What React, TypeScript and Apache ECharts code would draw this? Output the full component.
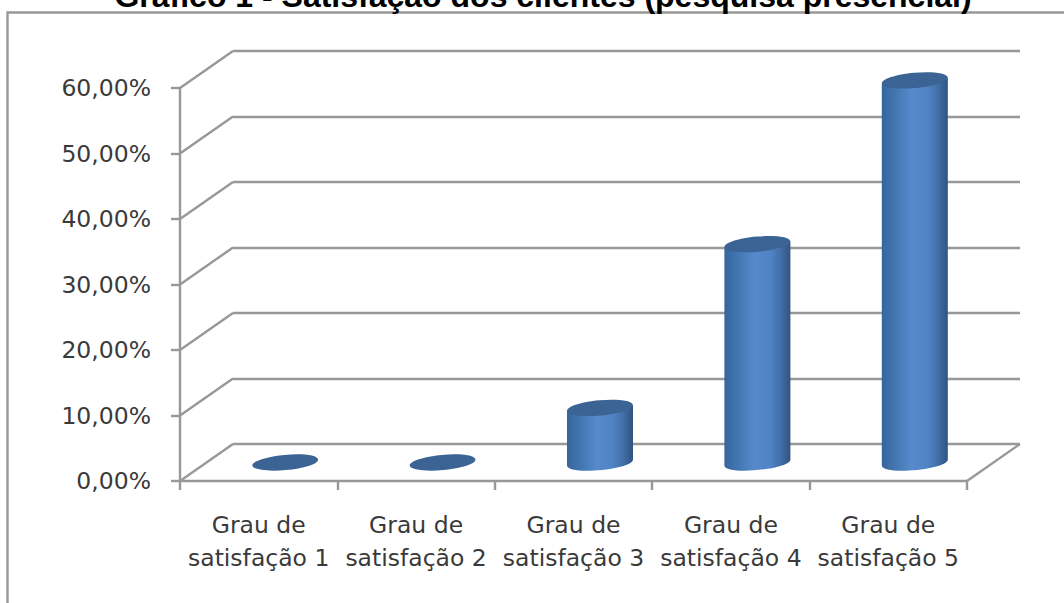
import React, { useEffect, useRef } from "react";
import * as echarts from "echarts";

const titleText = "Gráfico 1 - Satisfação dos clientes (pesquisa presencial)";
const categories = [
  "Grau de\nsatisfação 1",
  "Grau de\nsatisfação 2",
  "Grau de\nsatisfação 3",
  "Grau de\nsatisfação 4",
  "Grau de\nsatisfação 5",
];
const satisfaction = [0, 0, 8.33, 33.33, 58.33];
const gridValues = [0, 10, 20, 30, 40, 50, 60];

const DEPTH_X = 53;
const DEPTH_Y = -37;
const GRAY = "#989898";
const FONT = "DejaVu Sans";

export default function App() {
  const ref = useRef<HTMLDivElement>(null);
  useEffect(() => {
    document.body.style.margin = "0";
    const chart = echarts.init(ref.current!, null, { renderer: "svg" });
    const axisStyle = { color: GRAY, width: 2.4 };
    chart.setOption({
      animation: false,
      backgroundColor: "#ffffff",
      title: {
        text: titleText,
        left: 538,
        top: -25,
        textAlign: "center",
        textStyle: { fontFamily: "Liberation Sans", fontSize: 32, fontWeight: "bold", color: "#000" },
      },
      graphic: [
        {
          type: "polyline",
          shape: { points: [[7.5, 603], [7.5, 12.5], [1064, 12.5]] },
          style: { stroke: GRAY, lineWidth: 2.4, fill: "none" },
          silent: true,
        },
      ],
      grid: [
        { left: 180, top: 88, width: 787, height: 393 },
        { left: 180 + DEPTH_X, top: 88 + DEPTH_Y, width: 787, height: 393 },
      ],
      xAxis: [
        {
          type: "category",
          gridIndex: 0,
          data: categories,
          axisLine: { lineStyle: axisStyle },
          axisTick: { show: true, length: 9, lineStyle: axisStyle },
          axisLabel: {
            margin: 27,
            fontFamily: FONT,
            fontSize: 23.5,
            lineHeight: 33,
            color: "#3a3a3a",
            interval: 0,
          },
          splitLine: { show: false },
        },
        { type: "category", gridIndex: 1, data: categories, show: false },
      ],
      yAxis: [
        {
          type: "value",
          gridIndex: 0,
          min: 0,
          max: 60,
          interval: 10,
          axisLine: { show: true, lineStyle: axisStyle },
          axisTick: { show: true, length: 9, lineStyle: axisStyle },
          axisLabel: {
            margin: 29,
            fontFamily: FONT,
            fontSize: 23.5,
            color: "#3a3a3a",
            formatter: (v: number) => v.toFixed(2).replace(".", ",") + "%",
          },
          splitLine: { show: false },
        },
        {
          type: "value",
          gridIndex: 1,
          min: 0,
          max: 60,
          interval: 10,
          axisLine: { show: false },
          axisTick: { show: false },
          axisLabel: { show: false },
          splitLine: { show: true, lineStyle: axisStyle },
        },
      ],
      series: [
        {
          type: "custom",
          xAxisIndex: 0,
          yAxisIndex: 0,
          z: 1,
          data: gridValues.map((v) => [0, v]),
          encode: { x: 0, y: 1 },
          clip: false,
          renderItem: (params: any, api: any) => {
            const y = api.coord([0, api.value(1)])[1];
            const x = params.coordSys.x;
            const children: any[] = [
              {
                type: "line",
                shape: { x1: x, y1: y, x2: x + DEPTH_X, y2: y + DEPTH_Y },
                style: { stroke: GRAY, lineWidth: 2.4 },
              },
            ];
            if (api.value(1) === 0) {
              const xr = x + params.coordSys.width;
              children.push({
                type: "line",
                shape: { x1: xr, y1: y, x2: xr + DEPTH_X, y2: y + DEPTH_Y },
                style: { stroke: GRAY, lineWidth: 2.4 },
              });
            }
            return { type: "group", children };
          },
        },
        {
          type: "custom",
          xAxisIndex: 0,
          yAxisIndex: 0,
          z: 3,
          data: satisfaction.map((v, i) => [i, v]),
          encode: { x: 0, y: 1 },
          clip: false,
          renderItem: (_params: any, api: any) => {
            const [fx, fy0] = api.coord([api.value(0), 0]);
            const [, fyTop] = api.coord([api.value(0), api.value(1)]);
            const cx = fx + DEPTH_X / 2;
            const yBase = fy0 + DEPTH_Y / 2;
            const yTop = fyTop + DEPTH_Y / 2;
            const rx = 33;
            const ry = 7.6;
            const tilt = 3;
            const rot = Math.atan2(tilt, rx);
            const topEllipse = {
              type: "ellipse",
              shape: { cx: 0, cy: 0, rx, ry },
              x: cx,
              y: yTop,
              rotation: rot,
              style: { fill: "#3b6394" },
            };
            if (api.value(1) === 0) {
              return { type: "group", children: [topEllipse] };
            }
            const bulge = (4 / 3) * ry;
            const d =
              `M${cx - rx} ${yTop + tilt} L${cx - rx} ${yBase + tilt} ` +
              `C${cx - rx} ${yBase + tilt + bulge} ${cx + rx} ${yBase - tilt + bulge} ${cx + rx} ${yBase - tilt} ` +
              `L${cx + rx} ${yTop - tilt} Z`;
            return {
              type: "group",
              children: [
                {
                  type: "path",
                  shape: { pathData: d },
                  style: {
                    fill: new echarts.graphic.LinearGradient(0, 0, 1, 0, [
                      { offset: 0, color: "#36659c" },
                      { offset: 0.25, color: "#467ab6" },
                      { offset: 0.45, color: "#5789cb" },
                      { offset: 0.7, color: "#5083c3" },
                      { offset: 0.85, color: "#426fa8" },
                      { offset: 1, color: "#2f5480" },
                    ]),
                  },
                },
                topEllipse,
              ],
            };
          },
        },
        {
          type: "line",
          xAxisIndex: 1,
          yAxisIndex: 1,
          data: [],
          silent: true,
        },
      ],
    });
    return () => chart.dispose();
  }, []);
  return <div ref={ref} style={{ width: 1064, height: 603, overflow: "hidden" }} />;
}
